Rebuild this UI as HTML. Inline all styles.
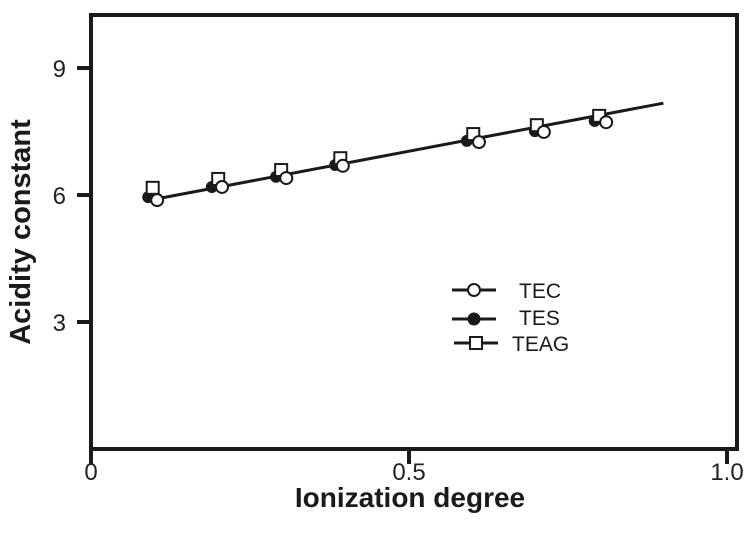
<!DOCTYPE html>
<html><head><meta charset="utf-8"><style>
html,body{margin:0;padding:0;background:#fff;}
svg{display:block;font-family:"Liberation Sans",Arial,sans-serif;}
</style></head><body>
<svg id="chart" width="750" height="541" viewBox="0 0 750 541">
<rect x="91" y="15" width="646" height="434" fill="none" stroke="#1a1a1a" stroke-width="4"/>
<g id="ticks"></g>
<g id="marks"></g>
<text x="410" y="507" font-size="28" font-weight="bold" text-anchor="middle" fill="#1a1a1a">Ionization degree</text>
<text transform="translate(30,232) rotate(-90)" font-size="29" font-weight="bold" text-anchor="middle" fill="#1a1a1a">Acidity constant</text>
<g>
<g><line x1="452" y1="290" x2="496" y2="290" stroke="#1a1a1a" stroke-width="3"/><circle cx="474" cy="290" r="6" fill="#fff" stroke="#1a1a1a" stroke-width="2"/><text x="519" y="298" font-size="21" fill="#1a1a1a">TEC</text></g>
<g><line x1="452" y1="319" x2="496" y2="319" stroke="#1a1a1a" stroke-width="3"/><circle cx="474" cy="319" r="6.5" fill="#1a1a1a"/><text x="519" y="325" font-size="21" fill="#1a1a1a">TES</text></g>
<g><line x1="454" y1="343" x2="498" y2="343" stroke="#1a1a1a" stroke-width="3"/><rect x="470" y="337" width="12" height="12" fill="#fff" stroke="#1a1a1a" stroke-width="2"/><text x="512" y="351" font-size="21" fill="#1a1a1a">TEAG</text></g>
</g>
</svg>
<script>
const xTicks=[0,0.5,1.0];
const xTickLabels=["0","0.5","1.0"];
const yTicks=[3,6,9];
const yTickLabels=["3","6","9"];
const fitX=[0.1,0.9];
const fitY=[5.9,8.17];
const tecX=[0.104,0.206,0.307,0.396,0.610,0.712,0.810];
const tecY=[5.88,6.19,6.40,6.69,7.25,7.49,7.72];
const tesX=[0.090,0.190,0.291,0.384,0.591,0.698,0.792];
const tesY=[5.95,6.19,6.43,6.71,7.28,7.51,7.75];
const teagX=[0.097,0.200,0.299,0.392,0.601,0.701,0.799];
const teagY=[6.17,6.38,6.59,6.87,7.44,7.65,7.87];

const NS="http://www.w3.org/2000/svg";
function sx(v){return 91+v*636;}
function sy(v){return 449-v*42.33;}
function mk(tag,attrs,parent){const e=document.createElementNS(NS,tag);for(const k in attrs)e.setAttribute(k,attrs[k]);parent.appendChild(e);return e;}
const ticks=document.getElementById('ticks');
const marks=document.getElementById('marks');
xTicks.forEach((v,i)=>{
  const t=mk('line',{x1:sx(v),x2:sx(v),y1:449,y2:464,stroke:'#1a1a1a','stroke-width':4},ticks);
  
  
  const l=mk('text',{x:sx(v),y:480,'font-size':24,'text-anchor':'middle',fill:'#222'},ticks);
  l.textContent=xTickLabels[i];
  
  
});
yTicks.forEach((v,i)=>{
  const t=mk('line',{x1:77,x2:91,y1:sy(v),y2:sy(v),stroke:'#1a1a1a','stroke-width':4},ticks);
  
  
  const l=mk('text',{x:66,y:sy(v)+9,'font-size':24,'text-anchor':'end',fill:'#222'},ticks);
  l.textContent=yTickLabels[i];
  
  
});
const fit=mk('line',{x1:sx(fitX[0]),y1:sy(fitY[0]),x2:sx(fitX[1]),y2:sy(fitY[1]),stroke:'#1a1a1a','stroke-width':3},marks);


tesX.forEach((x,i)=>{
  const c=mk('circle',{cx:sx(x),cy:sy(tesY[i]),r:6,fill:'#1a1a1a'},marks);
  
  
});
teagX.forEach((x,i)=>{
  const r=mk('rect',{x:sx(x)-6,y:sy(teagY[i])-6,width:12,height:12,fill:'#fff',stroke:'#1a1a1a','stroke-width':2},marks);
  
  
});
tecX.forEach((x,i)=>{
  const c=mk('circle',{cx:sx(x),cy:sy(tecY[i]),r:6,fill:'#fff',stroke:'#1a1a1a','stroke-width':2},marks);
  
  
});
</script>
</body></html>
